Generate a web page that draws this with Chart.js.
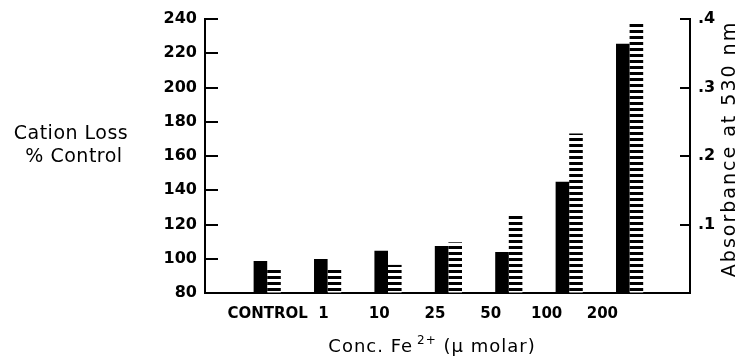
<!DOCTYPE html>
<html><head><meta charset="utf-8">
<script src="https://cdn.jsdelivr.net/npm/chart.js@4.4.1/dist/chart.umd.min.js"></script>
<style>html,body{margin:0;padding:0;background:#fff;}canvas{display:block;}</style>
</head><body>
<canvas id="c" width="742" height="362"></canvas>
<script>
const categories = ['CONTROL', '1', '10', '25', '50', '100', '200'];
const cationLoss = [98.7, 99.8, 104.6, 107.5, 104, 145, 225.6];
const absorbance = [0.034, 0.034, 0.041, 0.074, 0.115, 0.233, 0.394];
const leftTicks = [80, 100, 120, 140, 160, 180, 200, 220, 240];
const rightTicks = [0, 0.1, 0.2, 0.3, 0.4];
const rightTickLabels = ['', '.1', '.2', '.3', '.4'];

Chart.defaults.font.family = '"DejaVu Sans"';
Chart.defaults.color = '#000';

function stripes() {
  const p = document.createElement('canvas');
  p.width = 8; p.height = 6;
  const g = p.getContext('2d');
  g.fillStyle = '#fff'; g.fillRect(0, 0, 8, 6);
  g.fillStyle = '#000'; g.fillRect(0, 0, 8, 3);
  return document.getElementById('c').getContext('2d').createPattern(p, 'repeat');
}

const decor = {
  id: 'decor',
  afterDraw(chart) {
    const {ctx, chartArea: a, scales} = chart;
    ctx.save();
    ctx.strokeStyle = '#000';
    ctx.lineWidth = 2;
    scales.y.ticks.forEach(t => {
      if (t.value === scales.y.min) return;
      const py = Math.round(scales.y.getPixelForValue(t.value));
      ctx.beginPath(); ctx.moveTo(a.left, py); ctx.lineTo(a.left + 13, py); ctx.stroke();
    });
    scales.y2.ticks.forEach(t => {
      if (t.value === scales.y2.min) return;
      const py = Math.round(scales.y2.getPixelForValue(t.value));
      ctx.beginPath(); ctx.moveTo(a.right - 10, py); ctx.lineTo(a.right, py); ctx.stroke();
    });
    ctx.fillStyle = '#000';
    ctx.textBaseline = 'middle';
    ctx.textAlign = 'center';
    ctx.font = '19px "DejaVu Sans"';
    ctx.letterSpacing = '0.5px';
    ctx.fillText('Cation Loss', 71, 134);
    ctx.fillText('% Control', 74, 157);
    ctx.save();
    ctx.translate(730, 149);
    ctx.rotate(-Math.PI / 2);
    ctx.letterSpacing = '2px';
    ctx.fillText('Absorbance at 530 nm', 0, 0);
    ctx.restore();
    // x title with superscript
    ctx.textAlign = 'left';
    ctx.textBaseline = 'alphabetic';
    ctx.letterSpacing = '1px';
    const p1 = 'Conc. Fe', p2 = '2+', p3 = ' (\u03bc molar)';
    ctx.font = '18px "DejaVu Sans"';
    const w1 = ctx.measureText(p1).width, w3 = ctx.measureText(p3).width;
    ctx.font = '12px "DejaVu Sans"';
    const w2 = ctx.measureText(p2).width;
    const total = w1 + 4 + w2 + w3;
    let x = 432 - total / 2;
    const base = 352;
    ctx.font = '18px "DejaVu Sans"';
    ctx.fillText(p1, x, base);
    x += w1 + 4;
    ctx.font = '12px "DejaVu Sans"';
    ctx.fillText(p2, x, base - 8);
    x += w2;
    ctx.font = '18px "DejaVu Sans"';
    ctx.fillText(p3, x, base);
    ctx.restore();
  }
};

new Chart(document.getElementById('c'), {
  type: 'bar',
  data: {
    datasets: [
      {
        label: 'Cation Loss % Control',
        data: categories.map((c, i) => ({x: i, y: cationLoss[i]})),
        xAxisID: 'x', yAxisID: 'y',
        backgroundColor: '#000',
        barPercentage: 1, categoryPercentage: 0.45
      },
      {
        label: 'Absorbance at 530 nm',
        data: categories.map((c, i) => ({x: i, y: absorbance[i]})),
        xAxisID: 'x', yAxisID: 'y2',
        backgroundColor: stripes(),
        barPercentage: 1, categoryPercentage: 0.45
      }
    ]
  },
  options: {
    responsive: false,
    animation: false,
    devicePixelRatio: 1,
    layout: {padding: {top: 19, left: 0, right: 0, bottom: 0}},
    plugins: {legend: {display: false}, tooltip: {enabled: false}},
    scales: {
      x: {
        type: 'linear', position: 'bottom', min: -1.03, max: 7.0, offset: false,
        afterBuildTicks: s => { s.ticks = categories.map((c, i) => ({value: i})); },
        afterFit: s => { s.height = 0; },
        grid: {display: false, drawTicks: false, offset: false},
        border: {display: true, color: '#000', width: 2},
        ticks: {display: false}
      },
      xl: {
        type: 'linear', position: 'bottom', min: -1.122, max: 7.57, offset: false,
        afterBuildTicks: s => { s.ticks = categories.map((c, i) => ({value: i})); },
        afterFit: s => { s.height = 69; },
        grid: {display: false, drawTicks: false, offset: false},
        border: {display: false},
        ticks: {
          autoSkip: false, maxRotation: 0, padding: 12,
          font: {size: 15, weight: 'bold'},
          callback: v => categories[v] ?? ''
        }
      },
      y: {
        type: 'linear', position: 'left', min: 80, max: 240,
        afterBuildTicks: s => { s.ticks = leftTicks.map(v => ({value: v})); },
        afterFit: s => { s.width = 205; },
        grid: {drawOnChartArea: false, drawTicks: false},
        border: {display: true, color: '#000', width: 2},
        ticks: {padding: 8, font: {size: 16, weight: 'bold'}}
      },
      y2: {
        type: 'linear', position: 'right', min: 0, max: 0.4,
        afterBuildTicks: s => { s.ticks = rightTicks.map(v => ({value: v})); },
        afterFit: s => { s.width = 52; },
        grid: {drawOnChartArea: false, drawTicks: false},
        border: {display: true, color: '#000', width: 2},
        ticks: {padding: 8, font: {size: 16, weight: 'bold'},
          callback: (v, i) => rightTickLabels[i]}
      }
    }
  },
  plugins: [decor]
});
</script>
</body></html>
